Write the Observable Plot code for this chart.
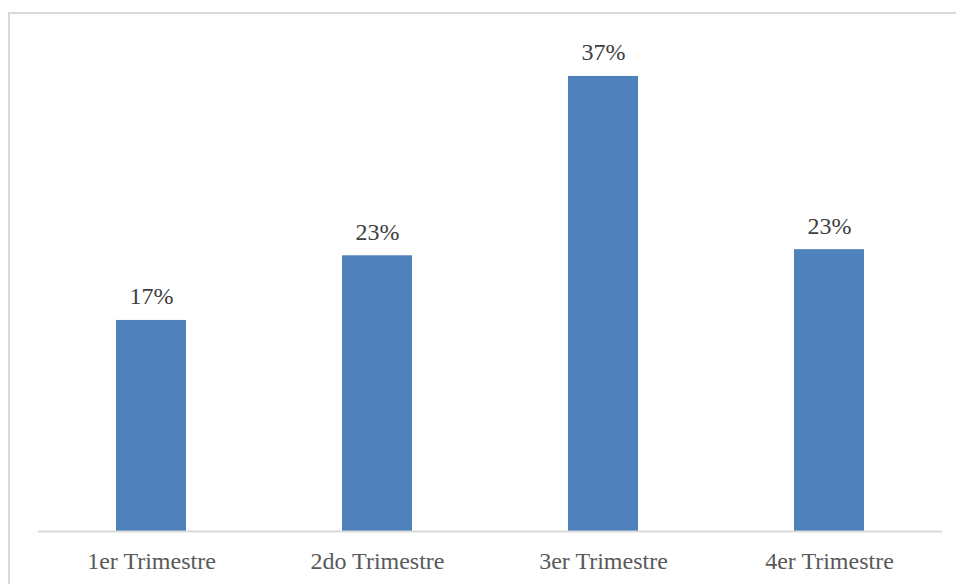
<!DOCTYPE html>
<html>
<head>
<meta charset="utf-8">
<script src="https://cdn.jsdelivr.net/npm/d3@7"></script>
<script src="https://cdn.jsdelivr.net/npm/@observablehq/plot@0.6"></script>
<style>
  html, body { margin: 0; padding: 0; background: #fff; }
  #wrap { position: relative; width: 956px; height: 584px; overflow: hidden; }
  #border { position: absolute; left: 8px; top: 12px; width: 960px; height: 600px;
            border-top: 2px solid #d9d9d9; border-left: 2px solid #d9d9d9; box-sizing: border-box; pointer-events: none; }
  svg { position: absolute; left: 0; top: 0; }
  svg text { font-family: "Liberation Serif", "Times New Roman", serif !important; font-size: 24px !important; }
</style>
</head>
<body>
<div id="wrap"><div id="border"></div></div>
<script>
const categories = ["1er Trimestre", "2do Trimestre", "3er Trimestre", "4er Trimestre"];
const values = [0.173, 0.226, 0.373, 0.231];
const labels = ["17%", "23%", "37%", "23%"];

const data = categories.map((c, i) => ({ cat: c, value: values[i], label: labels[i] }));

const chart = Plot.plot({
  width: 956,
  height: 584,
  marginLeft: 38,
  marginRight: 14,
  marginTop: 43,
  marginBottom: 53,
  style: { background: "transparent" },
  x: { domain: categories, padding: 0, label: null },
  y: { domain: [0, 0.4], axis: null },
  marks: [
    Plot.barY(data, { x: "cat", y: "value", fill: "#4f81bd", insetLeft: 78, insetRight: 78 }),
    Plot.ruleY([0], { stroke: "#d9d9d9", strokeWidth: 2 }),
    Plot.text(data, { x: "cat", y: "value", text: "label", dy: -16, lineAnchor: "bottom",
                      fontSize: 24, fill: "#404040" }),
    Plot.axisX({ tickSize: 0, tickPadding: 20, fontSize: 24, color: "#595959", label: null })
  ]
});
document.getElementById("wrap").insertBefore(chart, document.getElementById("border"));
</script>
</body>
</html>
